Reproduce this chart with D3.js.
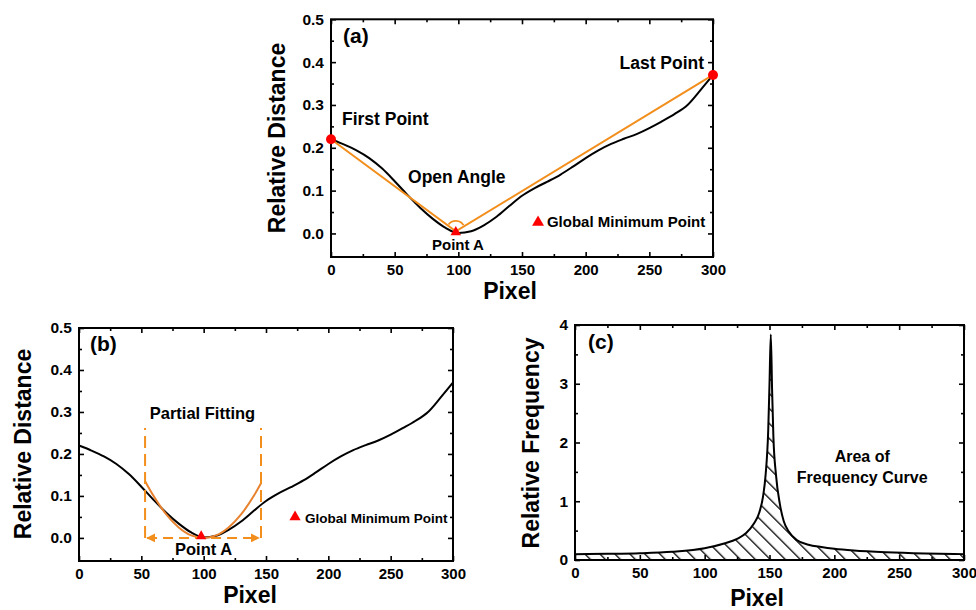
<!DOCTYPE html>
<html>
<head>
<meta charset="utf-8">
<script src="https://cdn.jsdelivr.net/npm/d3@7"></script>
<style>
body { margin: 0; background: #fff; }
svg text { font-family: "Liberation Sans", Arial, sans-serif; font-weight: bold; fill: #000; }
</style>
</head>
<body>
<svg width="976" height="610"></svg>
<script>
// distance curve, used by (a) and (b)
const pixel = [0, 10, 20, 30, 40, 50, 60, 70, 80, 90, 100, 110, 120, 130, 140, 150,
               160, 170, 180, 190, 200, 210, 220, 230, 240, 250, 260, 270, 280, 290, 300];
const distance = [0.220, 0.208, 0.194, 0.176, 0.152, 0.122, 0.090, 0.060, 0.034, 0.013, 0.001,
                  0.005, 0.019, 0.039, 0.064, 0.088, 0.106, 0.121, 0.137, 0.156, 0.176,
                  0.194, 0.209, 0.221, 0.232, 0.246, 0.262, 0.279, 0.300, 0.334, 0.370];

// open angle lines (a)
const angleX = [0, 98, 300];
const angleY = [0.22, 0.005, 0.37];

// partial fitting (b)
const fitX = [53, 60, 70, 80, 90, 100, 110, 120, 130, 140, 146];
const fitY = [0.135, 0.099, 0.056, 0.025, 0.006, 0.0, 0.006, 0.025, 0.056, 0.099, 0.130];
const fitRange = [53, 146];
const fitTop = 0.262;

// frequency curve (c)
const freqX = [0, 25, 50, 75, 100, 115, 125, 132, 138, 142, 145, 147, 149, 150, 151,
               152, 153, 155, 158, 161, 165, 171, 180, 190, 200, 215, 240, 270, 300];
const freq = [0.10, 0.105, 0.115, 0.14, 0.20, 0.28, 0.36, 0.46, 0.62, 0.80, 1.08, 1.45, 2.2, 3.0, 3.84,
              2.9, 2.1, 1.45, 0.95, 0.66, 0.48, 0.34, 0.26, 0.22, 0.19, 0.16, 0.13, 0.11, 0.10];

const pixelTicks = [0, 50, 100, 150, 200, 250, 300];
const pixelMinor = [25, 75, 125, 175, 225, 275];
const distTicks = [0.0, 0.1, 0.2, 0.3, 0.4, 0.5];
const distMinor = [0.05, 0.15, 0.25, 0.35, 0.45];
const freqTicks = [0, 1, 2, 3, 4];
const freqMinor = [0.5, 1.5, 2.5, 3.5];

const orange = "#f28e1c";
const fitOrange = "#e8822e";
const red = "#ff0000";

let svg = d3.select("svg");

let defs = svg.append("defs");
defs.append("pattern")
    .attr("id", "hatch")
    .attr("patternUnits", "userSpaceOnUse")
    .attr("width", 10.6)
    .attr("height", 10.6)
    .attr("patternTransform", "rotate(-45)")
    .append("line")
    .attr("x1", 0).attr("y1", 0)
    .attr("x2", 0).attr("y2", 10.6)
    .attr("stroke", "#000")
    .attr("stroke-width", 2.6);

defs.append("marker")
    .attr("id", "arrow")
    .attr("viewBox", "0 0 10 10")
    .attr("refX", 9).attr("refY", 5)
    .attr("markerWidth", 4.5).attr("markerHeight", 4.5)
    .attr("orient", "auto-start-reverse")
    .append("path")
    .attr("d", "M0,0L10,5L0,10z")
    .attr("fill", orange);

function frame(x, y, xt, xm, yt, ym, yfmt) {
    let g = svg.append("g");
    let [x0, x1] = x.range();
    let [y0, y1] = y.range();

    let add = (axis, tr, vals, size, fmt) => {
        let a = g.append("g")
            .attr("transform", tr)
            .call(axis.tickValues(vals).tickSize(-size).tickPadding(7).tickFormat(fmt));
        a.select(".domain").remove();
        a.selectAll("line").attr("stroke-width", 1.6);
        return a;
    };

    add(d3.axisBottom(x), `translate(0,${y0})`, xt, 5, d3.format("d"))
        .selectAll("text").style("font-size", "15px");
    add(d3.axisBottom(x), `translate(0,${y0})`, xm, 3, "");
    add(d3.axisTop(x), `translate(0,${y1})`, xt, 5, "");
    add(d3.axisTop(x), `translate(0,${y1})`, xm, 3, "");
    add(d3.axisLeft(y), `translate(${x0},0)`, yt, 5, yfmt)
        .selectAll("text").style("font-size", "15.5px");
    add(d3.axisLeft(y), `translate(${x0},0)`, ym, 3, "");
    add(d3.axisRight(y), `translate(${x1},0)`, yt, 5, "");
    add(d3.axisRight(y), `translate(${x1},0)`, ym, 3, "");

    g.append("rect")
        .attr("x", x0).attr("y", y1)
        .attr("width", x1 - x0).attr("height", y0 - y1)
        .attr("fill", "none")
        .attr("stroke", "#000")
        .attr("stroke-width", 2);
}

function label(x, y, px, py, txt, size, anchor) {
    svg.append("text")
        .attr("x", x(px))
        .attr("y", y(py))
        .attr("text-anchor", anchor || "start")
        .style("font-size", size + "px")
        .text(txt);
}

function title(tx, ty, txt, rotate) {
    svg.append("text")
        .attr("transform", `translate(${tx},${ty})` + (rotate ? " rotate(-90)" : ""))
        .attr("text-anchor", "middle")
        .style("font-size", "23px")
        .text(txt);
}

function triangle(x, y, px, py, size) {
    svg.append("path")
        .attr("d", d3.symbol(d3.symbolTriangle, size))
        .attr("transform", `translate(${x(px)},${y(py)})`)
        .attr("fill", red);
}

const distFmt = d3.format(".1f");

// ---------- (a) ----------
let xa = d3.scaleLinear().domain([0, 300]).range([331, 713]);
let ya = d3.scaleLinear().domain([-0.055, 0.5]).range([257, 19.3]);

let lineA = d3.line().x((d, i) => xa(pixel[i])).y(d => ya(d)).curve(d3.curveMonotoneX);
svg.append("path")
    .attr("d", lineA(distance))
    .attr("fill", "none").attr("stroke", "#000").attr("stroke-width", 2);

let angleLine = d3.line().x((d, i) => xa(angleX[i])).y(d => ya(d));
svg.append("path")
    .attr("d", angleLine(angleY))
    .attr("fill", "none").attr("stroke", orange).attr("stroke-width", 2);

// open angle arc at the vertex
let vx = xa(angleX[1]), vy = ya(angleY[1]);
let aStart = Math.atan2(xa(angleX[0]) - vx, vy - ya(angleY[0]));
let aEnd = Math.atan2(xa(angleX[2]) - vx, vy - ya(angleY[2]));
svg.append("path")
    .attr("d", d3.arc()({innerRadius: 9, outerRadius: 9, startAngle: aStart, endAngle: aEnd}))
    .attr("transform", `translate(${vx},${vy - 1.5})`)
    .attr("fill", "none").attr("stroke", orange).attr("stroke-width", 1.8);

frame(xa, ya, pixelTicks, pixelMinor, distTicks, distMinor, distFmt);

svg.append("circle").attr("cx", xa(pixel[0])).attr("cy", ya(distance[0])).attr("r", 5).attr("fill", red);
svg.append("circle").attr("cx", xa(pixel[30])).attr("cy", ya(distance[30])).attr("r", 5).attr("fill", red);
triangle(xa, ya, 98, 0.003, 48);
triangle(xa, ya, 162.6, 0.026, 62);

label(xa, ya, 9.4, 0.444, "(a)", 21);
label(xa, ya, 8.6, 0.253, "First Point", 17.5);
label(xa, ya, 60.5, 0.118, "Open Angle", 17.5);
label(xa, ya, 99.7, -0.038, "Point A", 15, "middle");
label(xa, ya, 293, 0.384, "Last Point", 17.5, "end");
label(xa, ya, 169.6, 0.015, "Global Minimum Point", 15);
title(285, 138, "Relative Distance", true);
title(510, 299, "Pixel");

// ---------- (b) ----------
let xb = d3.scaleLinear().domain([0, 300]).range([79, 453]);
let yb = d3.scaleLinear().domain([-0.055, 0.5]).range([561, 328]);

let lineB = d3.line().x((d, i) => xb(pixel[i])).y(d => yb(d)).curve(d3.curveMonotoneX);
svg.append("path")
    .attr("d", lineB(distance))
    .attr("fill", "none").attr("stroke", "#000").attr("stroke-width", 2);

let fitLine = d3.line().x((d, i) => xb(fitX[i])).y(d => yb(d)).curve(d3.curveMonotoneX);
svg.append("path")
    .attr("d", fitLine(fitY))
    .attr("fill", "none").attr("stroke", fitOrange).attr("stroke-width", 2);

fitRange.forEach(v => {
    svg.append("line")
        .attr("x1", xb(v)).attr("x2", xb(v))
        .attr("y1", yb(0)).attr("y2", yb(fitTop))
        .attr("stroke", orange).attr("stroke-width", 2)
        .attr("stroke-dasharray", "12,6");
});
svg.append("line")
    .attr("x1", xb(fitRange[0]) + 2).attr("x2", xb(fitRange[1]) - 2)
    .attr("y1", yb(0)).attr("y2", yb(0))
    .attr("stroke", orange).attr("stroke-width", 2)
    .attr("stroke-dasharray", "10,6")
    .attr("marker-start", "url(#arrow)")
    .attr("marker-end", "url(#arrow)");

frame(xb, yb, pixelTicks, pixelMinor, distTicks, distMinor, distFmt);

triangle(xb, yb, 98, 0.004, 45);
triangle(xb, yb, 173.3, 0.05, 55);

label(xb, yb, 8.8, 0.445, "(b)", 21);
label(xb, yb, 99, 0.283, "Partial Fitting", 16.5, "middle");
label(xb, yb, 99.9, -0.040, "Point A", 16.5, "middle");
label(xb, yb, 181.3, 0.036, "Global Minimum Point", 13.5);
title(31, 444, "Relative Distance", true);
title(250, 603, "Pixel");

// ---------- (c) ----------
let xc = d3.scaleLinear().domain([0, 300]).range([575, 964]);
let yc = d3.scaleLinear().domain([0, 4]).range([560, 325]);

let area = d3.area().x((d, i) => xc(freqX[i])).y0(yc(0)).y1(d => yc(d)).curve(d3.curveMonotoneX);
svg.append("path")
    .attr("d", area(freq))
    .attr("fill", "url(#hatch)");

let lineC = d3.line().x((d, i) => xc(freqX[i])).y(d => yc(d)).curve(d3.curveMonotoneX);
svg.append("path")
    .attr("d", lineC(freq))
    .attr("fill", "none").attr("stroke", "#000").attr("stroke-width", 2);

frame(xc, yc, pixelTicks, pixelMinor, freqTicks, freqMinor, d3.format("d"));

label(xc, yc, 10, 3.59, "(c)", 21);
label(xc, yc, 221.5, 1.67, "Area of", 16, "middle");
label(xc, yc, 221.5, 1.31, "Frequency Curve", 16, "middle");
title(539, 443, "Relative Frequency", true);
title(757, 606, "Pixel");
</script>
</body>
</html>
